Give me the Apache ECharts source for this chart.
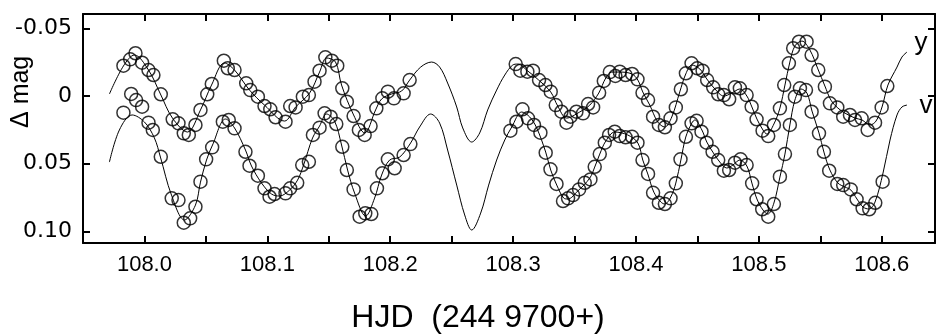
<!DOCTYPE html>
<html><head><meta charset="utf-8">
<script src="https://cdn.jsdelivr.net/npm/echarts@6/dist/echarts.min.js"></script>
<style>html,body{margin:0;padding:0;background:#fff}#c{width:936px;height:336px}</style>
</head><body><div id="c"></div>
<script>
// Tick values
const xTickLabels = [108.0, 108.1, 108.2, 108.3, 108.4, 108.5, 108.6];
const xTickMarks = [108.0,108.05,108.1,108.15,108.2,108.25,108.3,108.35,108.4,108.45,108.5,108.55,108.6];
const yTickLabels = [-0.05, 0, 0.05, 0.10];

// Observations, y filter: [HJD-2449700, delta mag]
const yObs = [[107.9829,-0.0224],[107.9884,-0.0271],[107.9927,-0.0316],[107.9981,-0.0246],[108.0033,-0.0192],[108.0073,-0.0155],[108.0133,-0.0013],[108.0230,0.0172],[108.0277,0.0202],[108.0320,0.0276],[108.0361,0.0288],[108.0415,0.0214],[108.0456,0.0103],[108.0511,-0.0013],[108.0548,-0.0089],[108.0646,-0.0261],[108.0678,-0.0205],[108.0733,-0.0192],[108.0828,-0.0094],[108.0861,-0.0044],[108.0923,0.0005],[108.0977,0.0074],[108.1024,0.0098],[108.1067,0.0157],[108.1148,0.0190],[108.1186,0.0074],[108.1230,0.0084],[108.1289,0.0005],[108.1338,-0.0007],[108.1384,-0.0106],[108.1425,-0.0187],[108.1472,-0.0286],[108.1525,-0.0261],[108.1569,-0.0224],[108.1610,-0.0057],[108.1647,0.0042],[108.1702,0.0148],[108.1745,0.0251],[108.1792,0.0288],[108.1840,0.0222],[108.1887,0.0091],[108.1936,0.0017],[108.1981,-0.0032],[108.2030,0.0017],[108.2109,-0.0020],[108.2158,-0.0118],
[108.3021,-0.0236],[108.3059,-0.0187],[108.3116,-0.0180],[108.3162,-0.0187],[108.3211,-0.0118],[108.3263,-0.0081],[108.3306,-0.0032],[108.3347,0.0067],[108.3393,0.0116],[108.3434,0.0197],[108.3467,0.0153],[108.3515,0.0116],[108.3569,0.0128],[108.3610,0.0059],[108.3651,0.0084],[108.3700,-0.0024],[108.3738,-0.0111],[108.3787,-0.0177],[108.3832,-0.0148],[108.3868,-0.0180],[108.3915,-0.0155],[108.3968,-0.0163],[108.4012,-0.0123],[108.4053,-0.0024],[108.4098,0.0030],[108.4139,0.0153],[108.4186,0.0214],[108.4235,0.0231],[108.4281,0.0165],[108.4324,0.0084],[108.4365,-0.0050],[108.4406,-0.0168],[108.4452,-0.0242],[108.4498,-0.0205],[108.4542,-0.0187],[108.4579,-0.0118],[108.4628,-0.0064],[108.4669,-0.0013],[108.4715,-0.0007],[108.4758,0.0024],[108.4805,-0.0064],[108.4845,-0.0057],[108.4900,-0.0007],[108.4941,0.0079],[108.4981,0.0172],[108.5030,0.0256],[108.5076,0.0296],[108.5122,0.0214],[108.5171,0.0091],[108.5206,-0.0081],[108.5244,-0.0242],[108.5279,-0.0353],[108.5326,-0.0401],[108.5388,-0.0401],[108.5429,-0.0303],[108.5483,-0.0192],[108.5537,-0.0069],[108.5578,0.0054],[108.5638,0.0084],[108.5686,0.0153],[108.5741,0.0140],[108.5782,0.0177],[108.5836,0.0165],[108.5885,0.0251],[108.5945,0.0197],[108.5999,0.0084],[108.6045,-0.0074]];

// Observations, v filter
const vObs = [[107.9829,0.0123],[107.9892,-0.0015],[107.9932,0.0030],[107.9981,0.0079],[108.0033,0.0197],[108.0068,0.0251],[108.0133,0.0449],[108.0222,0.0756],[108.0277,0.0769],[108.0320,0.0936],[108.0372,0.0904],[108.0415,0.0818],[108.0456,0.0633],[108.0502,0.0468],[108.0551,0.0379],[108.0638,0.0190],[108.0686,0.0177],[108.0733,0.0239],[108.0822,0.0412],[108.0855,0.0515],[108.0923,0.0589],[108.0977,0.0682],[108.1018,0.0744],[108.1059,0.0724],[108.1148,0.0719],[108.1186,0.0682],[108.1243,0.0641],[108.1284,0.0510],[108.1338,0.0486],[108.1371,0.0288],[108.1425,0.0234],[108.1466,0.0128],[108.1515,0.0153],[108.1561,0.0207],[108.1610,0.0375],[108.1647,0.0547],[108.1702,0.0690],[108.1751,0.0892],[108.1797,0.0867],[108.1846,0.0872],[108.1892,0.0682],[108.1936,0.0571],[108.1981,0.0468],[108.2036,0.0534],[108.2109,0.0436],[108.2164,0.0355],
[108.2978,0.0256],[108.3027,0.0190],[108.3076,0.0098],[108.3121,0.0165],[108.3170,0.0214],[108.3222,0.0271],[108.3265,0.0419],[108.3304,0.0542],[108.3353,0.0650],[108.3406,0.0776],[108.3447,0.0756],[108.3488,0.0732],[108.3537,0.0690],[108.3583,0.0641],[108.3629,0.0616],[108.3664,0.0523],[108.3705,0.0429],[108.3746,0.0345],[108.3781,0.0288],[108.3827,0.0264],[108.3868,0.0296],[108.3915,0.0305],[108.3968,0.0301],[108.4012,0.0345],[108.4053,0.0473],[108.4098,0.0576],[108.4139,0.0715],[108.4186,0.0789],[108.4235,0.0798],[108.4281,0.0756],[108.4324,0.0645],[108.4362,0.0468],[108.4406,0.0301],[108.4452,0.0202],[108.4493,0.0183],[108.4533,0.0264],[108.4574,0.0345],[108.4623,0.0412],[108.4669,0.0473],[108.4715,0.0552],[108.4758,0.0547],[108.4805,0.0493],[108.4851,0.0468],[108.4900,0.0510],[108.4945,0.0645],[108.4981,0.0763],[108.5027,0.0837],[108.5076,0.0892],[108.5122,0.0798],[108.5171,0.0596],[108.5212,0.0429],[108.5252,0.0214],[108.5293,0.0005],[108.5334,-0.0057],[108.5383,-0.0044],[108.5429,0.0116],[108.5489,0.0276],[108.5529,0.0412],[108.5572,0.0552],[108.5638,0.0650],[108.5686,0.0658],[108.5747,0.0690],[108.5795,0.0763],[108.5844,0.0830],[108.5898,0.0837],[108.5947,0.0789],[108.6007,0.0633]];

// Fitted curve, y filter
const yFit = [[107.9715,-0.0015],[107.9829,-0.0222],[107.9919,-0.0303],[108.0033,-0.0192],[108.0130,-0.0015],[108.0228,0.0163],[108.0350,0.0266],[108.0456,0.0103],[108.0546,-0.0081],[108.0651,-0.0244],[108.0733,-0.0192],[108.0855,-0.0044],[108.0977,0.0067],[108.1140,0.0185],[108.1230,0.0081],[108.1344,-0.0022],[108.1425,-0.0177],[108.1482,-0.0281],[108.1555,-0.0251],[108.1604,-0.0081],[108.1702,0.0140],[108.1792,0.0273],[108.1881,0.0103],[108.1930,0.0022],[108.2011,-0.0015],[108.2093,-0.0037],[108.2158,-0.0118],[108.2248,-0.0214],[108.2337,-0.0251],[108.2402,-0.0214],[108.2467,-0.0096],[108.2541,0.0081],[108.2590,0.0236],[108.2663,0.0340],[108.2728,0.0273],[108.2793,0.0103],[108.2866,-0.0044],[108.2932,-0.0155],[108.2997,-0.0229],[108.3037,-0.0236],[108.3119,-0.0185],[108.3208,-0.0118],[108.3306,-0.0030],[108.3363,0.0074],[108.3436,0.0163],[108.3542,0.0118],[108.3624,0.0067],[108.3697,-0.0022],[108.3754,-0.0133],[108.3803,-0.0177],[108.3868,-0.0177],[108.3966,-0.0163],[108.4015,-0.0118],[108.4055,-0.0030],[108.4112,0.0067],[108.4177,0.0192],[108.4234,0.0229],[108.4291,0.0155],[108.4356,-0.0030],[108.4405,-0.0163],[108.4454,-0.0229],[108.4519,-0.0200],[108.4576,-0.0126],[108.4642,-0.0052],[108.4715,0.0000],[108.4780,-0.0022],[108.4845,-0.0052],[108.4902,0.0000],[108.4943,0.0081],[108.4984,0.0170],[108.5033,0.0251],[108.5065,0.0281],[108.5122,0.0207],[108.5171,0.0089],[108.5212,-0.0081],[108.5252,-0.0251],[108.5293,-0.0370],[108.5350,-0.0406],[108.5415,-0.0340],[108.5480,-0.0200],[108.5537,-0.0074],[108.5586,0.0030],[108.5643,0.0089],[108.5700,0.0126],[108.5782,0.0163],[108.5839,0.0177],[108.5904,0.0214],[108.5953,0.0185],[108.6002,0.0081],[108.6050,-0.0081],[108.6124,-0.0214],[108.6164,-0.0288],[108.6205,-0.0325]];

// Fitted curve, v filter
const vFit = [[107.9715,0.0488],[107.9796,0.0251],[107.9900,0.0140],[108.0000,0.0192],[108.0081,0.0310],[108.0130,0.0451],[108.0220,0.0732],[108.0326,0.0916],[108.0415,0.0806],[108.0456,0.0636],[108.0505,0.0473],[108.0554,0.0362],[108.0660,0.0170],[108.0733,0.0236],[108.0822,0.0399],[108.0871,0.0517],[108.0953,0.0643],[108.1034,0.0724],[108.1099,0.0739],[108.1181,0.0695],[108.1246,0.0621],[108.1295,0.0510],[108.1368,0.0310],[108.1425,0.0222],[108.1482,0.0133],[108.1547,0.0185],[108.1604,0.0362],[108.1653,0.0547],[108.1710,0.0717],[108.1800,0.0887],[108.1873,0.0754],[108.1930,0.0584],[108.1995,0.0473],[108.2077,0.0451],[108.2166,0.0347],[108.2239,0.0229],[108.2329,0.0133],[108.2402,0.0200],[108.2467,0.0399],[108.2541,0.0658],[108.2606,0.0879],[108.2663,0.0990],[108.2736,0.0865],[108.2801,0.0658],[108.2866,0.0473],[108.2932,0.0325],[108.2989,0.0229],[108.3070,0.0118],[108.3135,0.0155],[108.3192,0.0236],[108.3265,0.0414],[108.3306,0.0547],[108.3355,0.0658],[108.3412,0.0754],[108.3445,0.0761],[108.3526,0.0702],[108.3624,0.0606],[108.3664,0.0525],[108.3705,0.0429],[108.3754,0.0333],[108.3827,0.0266],[108.3933,0.0288],[108.4015,0.0347],[108.4055,0.0473],[108.4096,0.0576],[108.4145,0.0710],[108.4202,0.0783],[108.4234,0.0798],[108.4283,0.0746],[108.4324,0.0643],[108.4365,0.0473],[108.4405,0.0303],[108.4454,0.0200],[108.4479,0.0177],[108.4536,0.0251],[108.4576,0.0340],[108.4625,0.0414],[108.4682,0.0488],[108.4739,0.0532],[108.4788,0.0510],[108.4845,0.0473],[108.4902,0.0517],[108.4943,0.0643],[108.4984,0.0761],[108.5033,0.0842],[108.5073,0.0872],[108.5122,0.0791],[108.5171,0.0599],[108.5212,0.0429],[108.5252,0.0214],[108.5293,0.0030],[108.5342,-0.0052],[108.5391,-0.0022],[108.5432,0.0111],[108.5489,0.0273],[108.5529,0.0414],[108.5578,0.0547],[108.5643,0.0643],[108.5700,0.0672],[108.5749,0.0695],[108.5798,0.0761],[108.5847,0.0820],[108.5896,0.0835],[108.5945,0.0783],[108.6010,0.0569],[108.6067,0.0325],[108.6124,0.0140],[108.6164,0.0081],[108.6205,0.0067]];

const chart = echarts.init(document.getElementById('c'), null, {renderer: 'canvas'});
const X_MIN = 107.95, X_MAX = 108.6433, Y_MIN = -0.0606, Y_MAX = 0.1086;
function axLine() { return {show: true, onZero: false, lineStyle: {color: '#000', width: 2}}; }
function ticks(vals) { return {show: true, inside: true, length: 7, customValues: vals, lineStyle: {color: '#000', width: 2}}; }
const circleStyle = {color: 'rgba(0,0,0,0)', borderColor: '#000', borderWidth: 1.5};

chart.setOption({
  animation: false,
  backgroundColor: '#fff',
  grid: {left: 83, right: 1, top: 14, bottom: 93},
  xAxis: [
    {type: 'value', position: 'bottom', min: X_MIN, max: X_MAX, axisLine: axLine(), axisTick: ticks(xTickMarks),
     axisLabel: {customValues: xTickLabels, formatter: v => v.toFixed(1), color: '#000', fontSize: 22, fontFamily: 'Liberation Sans', margin: 11},
     splitLine: {show: false}},
    {type: 'value', position: 'top', min: X_MIN, max: X_MAX, axisLine: axLine(), axisTick: ticks(xTickMarks),
     axisLabel: {show: false}, splitLine: {show: false}}
  ],
  yAxis: [
    {type: 'value', position: 'left', inverse: true, min: Y_MIN, max: Y_MAX, axisLine: axLine(), axisTick: ticks(yTickLabels),
     axisLabel: {customValues: yTickLabels, formatter: v => (v === 0 ? '0' : v.toFixed(2)), color: '#000', fontSize: 22, fontFamily: 'DejaVu Sans', margin: 11},
     splitLine: {show: false}},
    {type: 'value', position: 'right', inverse: true, min: Y_MIN, max: Y_MAX, axisLine: axLine(), axisTick: ticks(yTickLabels),
     axisLabel: {show: false}, splitLine: {show: false}}
  ],
  graphic: [
    {type: 'text', x: 9, y: 128, rotation: Math.PI / 2, style: {text: 'Δ mag', fontSize: 25, fontFamily: 'Liberation Sans', fill: '#000'}},
    {type: 'text', x: 478, y: 318, style: {text: 'HJD  (244 9700+)', fontSize: 32, fontFamily: 'Liberation Sans', fill: '#000', align: 'center', verticalAlign: 'middle'}},
    {type: 'text', x: 921, y: 43, style: {text: 'y', fontSize: 26, fontFamily: 'Liberation Sans', fill: '#000', align: 'center', verticalAlign: 'middle'}},
    {type: 'text', x: 926, y: 106, style: {text: 'v', fontSize: 26, fontFamily: 'Liberation Sans', fill: '#000', align: 'center', verticalAlign: 'middle'}}
  ],
  series: [
    {type: 'line', data: yFit, smooth: 0.35, showSymbol: false, lineStyle: {color: '#000', width: 1}, silent: true},
    {type: 'line', data: vFit, smooth: 0.35, showSymbol: false, lineStyle: {color: '#000', width: 1}, silent: true},
    {type: 'scatter', data: yObs, symbol: 'circle', symbolSize: 13, itemStyle: circleStyle},
    {type: 'scatter', data: vObs, symbol: 'circle', symbolSize: 13, itemStyle: circleStyle}
  ]
});
</script></body></html>
